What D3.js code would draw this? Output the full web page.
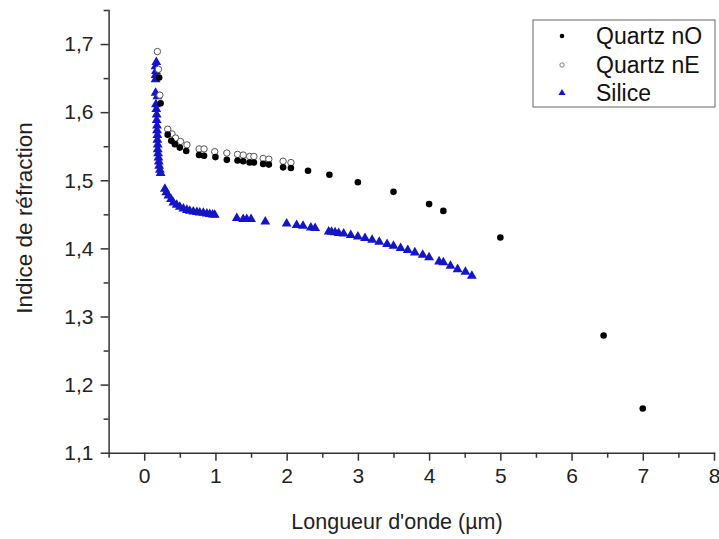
<!DOCTYPE html>
<html>
<head>
<meta charset="utf-8">
<script src="https://cdn.jsdelivr.net/npm/d3@7"></script>
<style>
  html, body { margin: 0; padding: 0; background: #fff; }
  svg { display: block; font-family: "Liberation Sans", Arial, sans-serif; }
</style>
</head>
<body>
<svg id="chart" width="719" height="539"></svg>
<script>
// ---- Data ----
const quartzNO_x = [0.21, 0.23, 0.33, 0.38, 0.43, 0.50, 0.59, 0.77, 0.84, 1.00, 1.16, 1.31, 1.39, 1.48, 1.54, 1.67, 1.75, 1.95, 2.06, 2.30, 2.60, 3.00, 3.50, 4.00, 4.20, 5.00, 6.45, 7.00];
const quartzNO_y = [1.651, 1.613, 1.567, 1.558, 1.553, 1.548, 1.543, 1.537, 1.536, 1.534, 1.530, 1.529, 1.528, 1.526, 1.526, 1.524, 1.523, 1.519, 1.518, 1.514, 1.508, 1.497, 1.483, 1.465, 1.455, 1.416, 1.272, 1.165];

const quartzNE_x = [0.185, 0.20, 0.22, 0.33, 0.39, 0.44, 0.51, 0.60, 0.77, 0.84, 0.99, 1.16, 1.31, 1.39, 1.48, 1.54, 1.67, 1.75, 1.95, 2.06];
const quartzNE_y = [1.689, 1.663, 1.625, 1.575, 1.568, 1.562, 1.557, 1.552, 1.546, 1.546, 1.542, 1.540, 1.538, 1.537, 1.535, 1.535, 1.532, 1.531, 1.528, 1.526];

const silice_x = [0.17, 0.16, 0.165, 0.16, 0.16, 0.16, 0.185, 0.165, 0.17, 0.175, 0.175, 0.18, 0.18, 0.185, 0.185, 0.19, 0.19, 0.195, 0.20, 0.205, 0.21, 0.22, 0.23,
  0.29, 0.31, 0.34, 0.376, 0.41, 0.456, 0.50, 0.55, 0.60, 0.64, 0.69, 0.74, 0.78, 0.83, 0.88, 0.92, 0.96, 0.99,
  1.30, 1.39, 1.44, 1.50, 1.70, 2.00, 2.14, 2.23, 2.34, 2.40, 2.59, 2.63, 2.68, 2.73, 2.80, 2.90, 3.00, 3.10, 3.20, 3.30, 3.41, 3.50, 3.60, 3.70, 3.80, 3.91, 4.00, 4.14, 4.20, 4.30, 4.40, 4.51, 4.60];
const silice_y = [1.674, 1.668, 1.661, 1.655, 1.649, 1.629, 1.624, 1.612, 1.605, 1.597, 1.589, 1.581, 1.574, 1.567, 1.560, 1.553, 1.546, 1.540, 1.534, 1.528, 1.522, 1.516, 1.511,
  1.488, 1.483, 1.478, 1.473, 1.468, 1.4645, 1.4616, 1.459, 1.457, 1.4557, 1.4547, 1.454, 1.453, 1.4528, 1.4517, 1.4508, 1.4503, 1.4498,
  1.445, 1.4435, 1.4435, 1.4435, 1.440, 1.437, 1.4347, 1.4337, 1.4312, 1.4303, 1.4254, 1.425, 1.424, 1.423, 1.4224, 1.420, 1.418, 1.4157, 1.4132, 1.4103, 1.4069, 1.4044, 1.401, 1.398, 1.3946, 1.3912, 1.3873, 1.3814, 1.380, 1.375, 1.370, 1.3663, 1.3604];

const xTicks = [0, 1, 2, 3, 4, 5, 6, 7, 8];
const xMinorTicks = [-0.5, 0.5, 1.5, 2.5, 3.5, 4.5, 5.5, 6.5, 7.5];
const yTicks = [1.1, 1.2, 1.3, 1.4, 1.5, 1.6, 1.7];
const yMinorTicks = [1.15, 1.25, 1.35, 1.45, 1.55, 1.65, 1.75];
const seriesNames = ["Quartz nO", "Quartz nE", "Silice"];
const xTitle = "Longueur d'onde (µm)";
const yTitle = "Indice de réfraction";

// ---- Layout ----
const svg = d3.select("#chart");
const x = d3.scaleLinear().domain([-0.5, 8]).range([108.6, 714]);
const y = d3.scaleLinear().domain([1.1, 1.75]).range([452.7, 10]);
const axisColor = "#333";
const blue = "#1414c8";
const fmt = d => d3.format(".1f")(d).replace(".", ",");

// X axis
const gx = svg.append("g").attr("transform", `translate(0,${y(1.1)})`);
gx.call(d3.axisBottom(x).tickValues(xTicks).tickSize(8).tickSizeOuter(0).tickFormat(d3.format("d")));
gx.append("g").call(d3.axisBottom(x).tickValues(xMinorTicks).tickSize(5).tickSizeOuter(0).tickFormat(""))
  .select(".domain").remove();
// Y axis
const gy = svg.append("g").attr("transform", `translate(${x(-0.5)},0)`);
gy.call(d3.axisLeft(y).tickValues(yTicks).tickSize(8).tickSizeOuter(0).tickFormat(fmt));
gy.append("g").call(d3.axisLeft(y).tickValues(yMinorTicks).tickSize(5).tickSizeOuter(0).tickFormat(""))
  .select(".domain").remove();

svg.selectAll(".domain, .tick line").attr("stroke", axisColor).attr("stroke-width", 1.5);
gx.selectAll(".tick text").attr("font-size", 21).attr("fill", "#222").attr("dy", "0.92em");
gy.selectAll(".tick text").attr("font-size", 21).attr("fill", "#222").attr("dx", "-0.2em");
svg.selectAll(".domain").attr("stroke-linecap", "square");

// Titles
svg.append("text").attr("x", 397).attr("y", 529).attr("text-anchor", "middle")
  .attr("font-size", 21.5).attr("fill", "#222").text(xTitle);
svg.append("text").attr("transform", `translate(32,218) rotate(-90)`).attr("text-anchor", "middle")
  .attr("font-size", 22.5).attr("fill", "#222").text(yTitle);

// Marks
const tri = d3.symbol().type(d3.symbolTriangle).size(42);
svg.append("g").selectAll("path").data(d3.range(silice_x.length)).join("path")
  .attr("d", tri)
  .attr("transform", i => `translate(${x(silice_x[i])},${y(silice_y[i]) + 0.5})`)
  .attr("fill", blue);
svg.append("g").selectAll("circle").data(d3.range(quartzNE_x.length)).join("circle")
  .attr("cx", i => x(quartzNE_x[i])).attr("cy", i => y(quartzNE_y[i])).attr("r", 3.2)
  .attr("fill", "#fff").attr("stroke", "#555").attr("stroke-width", 1);
svg.append("g").selectAll("circle").data(d3.range(quartzNO_x.length)).join("circle")
  .attr("cx", i => x(quartzNO_x[i])).attr("cy", i => y(quartzNO_y[i])).attr("r", 3.3)
  .attr("fill", "#000");

// Legend
const lg = svg.append("g");
lg.append("rect").attr("x", 533).attr("y", 20).attr("width", 182).attr("height", 87)
  .attr("fill", "#fff").attr("stroke", "#666").attr("stroke-width", 1);
const rowY = [36, 65, 93];
seriesNames.forEach((name, i) => {
  lg.append("text").attr("x", 596).attr("y", rowY[i]).attr("dy", "0.36em")
    .attr("font-size", 23).attr("fill", "#111").text(name);
});
lg.append("circle").attr("cx", 562).attr("cy", rowY[0]).attr("r", 2.3).attr("fill", "#000");
lg.append("circle").attr("cx", 562).attr("cy", rowY[1]).attr("r", 2.2).attr("fill", "#fff").attr("stroke", "#666").attr("stroke-width", 0.8);
lg.append("path").attr("d", d3.symbol().type(d3.symbolTriangle).size(22)).attr("transform", `translate(562,${rowY[2]})`).attr("fill", blue);
</script>
</body>
</html>
